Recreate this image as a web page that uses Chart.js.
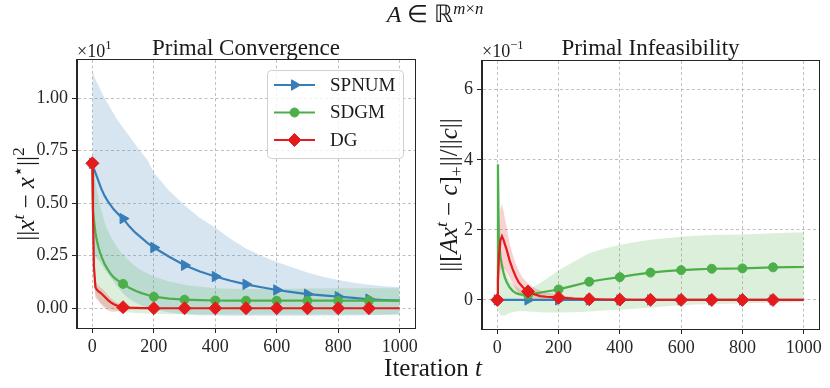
<!DOCTYPE html>
<html>
<head>
<meta charset="utf-8">
<script src="https://cdn.jsdelivr.net/npm/chart.js@4.4.1/dist/chart.umd.min.js"></script>
<style>
  html, body { margin: 0; padding: 0; background: #fff; }
  #figure { position: relative; width: 830px; height: 388px; overflow: hidden; font-family: "Liberation Serif", serif; color: #1a1a1a; }
  canvas { position: absolute; top: 0; }
  #conv { left: 0; }
  #infeas { left: 425px; }
  .figtext { position: absolute; transform: translate(-50%, -50%); white-space: nowrap; line-height: 1; }
  .figtext sup { font-size: 70%; line-height: 0; vertical-align: 0.5em; }
  #suptitle { left: 435px; top: 14px; font-size: 24px; }
  #xlabel { left: 433px; top: 367px; font-size: 25px; }
</style>
</head>
<body>
<div id="figure">
  <canvas id="conv" width="425" height="388"></canvas>
  <canvas id="infeas" width="405" height="388"></canvas>
  <div id="suptitle" class="figtext"><i>A</i> ∈ ℝ<sup><i>m</i>×<i>n</i></sup></div>
  <div id="xlabel" class="figtext">Iteration <i>t</i></div>
</div>
<script>
// iterations sampled for every curve
const iterations = [0, 2, 5, 10, 15, 20, 25, 30, 40, 50, 60, 70, 80, 90, 100, 120, 140, 160, 180, 200,
  250, 300, 350, 400, 450, 500, 550, 600, 650, 700, 750, 800, 850, 900, 950, 1000];
const xTicks = [0, 200, 400, 600, 800, 1000];

// Primal convergence, in units of 10^1
const convTicks = [0, 0.25, 0.5, 0.75, 1.0];
const spnumConv = [0.69, 0.68, 0.665, 0.645, 0.625, 0.605, 0.585, 0.566, 0.535, 0.51, 0.49, 0.47, 0.455, 0.44, 0.427, 0.39, 0.36, 0.335, 0.31, 0.289,
  0.245, 0.205, 0.175, 0.151, 0.131, 0.114, 0.1, 0.087, 0.077, 0.067, 0.061, 0.055, 0.049, 0.043, 0.039, 0.036];
const spnumConvHigh = [1.127, 1.12, 1.11, 1.09, 1.075, 1.06, 1.045, 1.03, 1.0, 0.975, 0.95, 0.925, 0.9, 0.88, 0.86, 0.82, 0.78, 0.74, 0.705, 0.645,
  0.56, 0.49, 0.43, 0.385, 0.33, 0.285, 0.25, 0.22, 0.195, 0.17, 0.15, 0.135, 0.122, 0.112, 0.105, 0.1];
const spnumConvLow = [0.26, 0.255, 0.25, 0.245, 0.238, 0.23, 0.22, 0.21, 0.185, 0.165, 0.145, 0.125, 0.105, 0.088, 0.07, 0.045, 0.027, 0.013, 0.003, -0.005,
  -0.02, -0.028, -0.033, -0.035, -0.036, -0.036, -0.036, -0.036, -0.036, -0.036, -0.035, -0.035, -0.034, -0.033, -0.032, -0.03];
const sdgmConv = [0.69, 0.47, 0.42, 0.36, 0.32, 0.29, 0.265, 0.245, 0.21, 0.185, 0.163, 0.147, 0.135, 0.125, 0.116, 0.098, 0.083, 0.072, 0.063, 0.055,
  0.046, 0.041, 0.039, 0.037, 0.036, 0.036, 0.036, 0.036, 0.036, 0.036, 0.036, 0.036, 0.036, 0.036, 0.036, 0.036];
const sdgmConvHigh = [0.69, 0.67, 0.65, 0.6, 0.56, 0.52, 0.49, 0.46, 0.41, 0.37, 0.34, 0.315, 0.293, 0.272, 0.255, 0.225, 0.2, 0.18, 0.165, 0.15,
  0.127, 0.112, 0.102, 0.095, 0.093, 0.092, 0.092, 0.093, 0.093, 0.094, 0.094, 0.095, 0.095, 0.095, 0.095, 0.095];
const sdgmConvLow = [0.69, 0.2, 0.12, 0.07, 0.05, 0.04, 0.03, 0.02, 0.01, 0.003, -0.003, -0.008, -0.012, -0.015, -0.017, -0.02, -0.022, -0.024, -0.025, -0.026,
  -0.028, -0.029, -0.03, -0.03, -0.03, -0.03, -0.03, -0.03, -0.03, -0.03, -0.03, -0.03, -0.03, -0.03, -0.03, -0.03];
const dgConv = [0.69, 0.45, 0.2, 0.1, 0.088, 0.08, 0.075, 0.069, 0.055, 0.04, 0.028, 0.019, 0.013, 0.008, 0.005, 0.003, 0.002, 0.001, 0.001, 0,
  0, 0, 0, 0, 0, 0, 0, 0, 0, 0, 0, 0, 0, 0, 0, 0];
const dgConvHigh = [0.69, 0.5, 0.28, 0.13, 0.115, 0.108, 0.1, 0.095, 0.08, 0.063, 0.048, 0.036, 0.026, 0.019, 0.014, 0.008, 0.005, 0.003, 0.002, 0.001,
  0, 0, 0, 0, 0, 0, 0, 0, 0, 0, 0, 0, 0, 0, 0, 0];
const dgConvLow = [0.69, 0.4, 0.12, 0.05, 0.04, 0.035, 0.025, 0.015, 0, -0.01, -0.015, -0.017, -0.016, -0.014, -0.012, -0.009, -0.006, -0.004, -0.003, -0.002,
  0, 0, 0, 0, 0, 0, 0, 0, 0, 0, 0, 0, 0, 0, 0, 0];

// Primal infeasibility, in units of 10^-1
const infTicks = [0, 2, 4, 6];
const spnumInf = [0, 0, 0, 0, 0, 0, 0, 0, 0, 0, 0, 0, 0, 0, 0, 0, 0, 0, 0, 0,
  0, 0, 0, 0, 0, 0, 0, 0, 0, 0, 0, 0, 0, 0, 0, 0];
const sdgmInf = [0, 3.87, 1.75, 1.25, 0.98, 0.78, 0.63, 0.52, 0.36, 0.26, 0.2, 0.165, 0.15, 0.145, 0.15, 0.18, 0.21, 0.24, 0.27, 0.3,
  0.41, 0.52, 0.59, 0.65, 0.72, 0.78, 0.82, 0.85, 0.87, 0.89, 0.895, 0.9, 0.915, 0.93, 0.935, 0.94];
const sdgmInfHigh = [0, 3.9, 2.0, 1.45, 1.2, 1.0, 0.85, 0.75, 0.56, 0.45, 0.38, 0.33, 0.3, 0.29, 0.3, 0.38, 0.48, 0.6, 0.72, 0.84,
  1.1, 1.33, 1.47, 1.57, 1.65, 1.72, 1.76, 1.8, 1.83, 1.85, 1.86, 1.87, 1.88, 1.9, 1.92, 1.93];
const sdgmInfLow = [0, -0.2, -0.35, -0.43, -0.45, -0.45, -0.44, -0.42, -0.38, -0.35, -0.33, -0.32, -0.32, -0.32, -0.33, -0.34, -0.35, -0.36, -0.36, -0.36,
  -0.35, -0.33, -0.3, -0.28, -0.25, -0.22, -0.18, -0.15, -0.13, -0.12, -0.11, -0.1, -0.09, -0.08, -0.07, -0.06];
const dgInf = [0, 0.6, 1.2, 1.7, 1.82, 1.72, 1.58, 1.45, 1.13, 0.88, 0.67, 0.5, 0.4, 0.3, 0.24, 0.16, 0.11, 0.09, 0.08, 0.065,
  0.035, 0.02, 0.012, 0.008, 0.005, 0.003, 0.002, 0.001, 0, 0, 0, 0, 0, 0, 0, 0];
const dgInfHigh = [0, 1.0, 2.0, 2.6, 2.75, 2.55, 2.3, 2.1, 1.62, 1.3, 1.03, 0.83, 0.67, 0.56, 0.47, 0.35, 0.27, 0.22, 0.18, 0.14,
  0.08, 0.05, 0.03, 0.02, 0.012, 0.008, 0.005, 0.003, 0.002, 0, 0, 0, 0, 0, 0, 0];
const dgInfLow = [0, 0.2, 0.45, 0.85, 0.92, 0.9, 0.86, 0.8, 0.64, 0.46, 0.31, 0.18, 0.12, 0.06, 0.02, 0, -0.02, -0.02, -0.015, -0.01,
  0, 0, 0, 0, 0, 0, 0, 0, 0, 0, 0, 0, 0, 0, 0, 0];

const FONT = "Liberation Serif";
const INK = "#262626";
const BLUE = "#377eb8";
const GREEN = "#4daf4a";
const RED = "#e41a1c";

const markers = {
  SPNUM: { style: "triangle", rotation: 90, radius: 6 },
  SDGM: { style: "circle", rotation: 0, radius: 4.5 },
  DG: { style: "rectRot", rotation: 0, radius: 6.5 },
};

Chart.defaults.font.family = FONT;
Chart.defaults.animation = false;

addEventListener("DOMContentLoaded", () => {
  renderChart("conv", {
    title: "Primal Convergence",
    scaleText: [["×10", ""], ["1", "^"]],
    yTitle: [["||", ""], ["x", "i"], ["t", "i^"], [" − ", ""], ["x", "i"], ["⋆", "^"], ["||", ""], ["2", "^"]],
    yTitleX: 34,
    yRange: [-0.094, 1.182],
    yTicks: convTicks,
    yDecimals: 2,
    yWidth: 77,
    xHeight: 60,
    padding: { top: 60, right: 10, left: 0, bottom: 0 },
    legend: true,
    series: [
      { label: "DG", color: RED, fill: "rgba(228,26,28,0.2)", mean: dgConv, high: dgConvHigh, low: dgConvLow },
      { label: "SDGM", color: GREEN, fill: "rgba(77,175,74,0.2)", mean: sdgmConv, high: sdgmConvHigh, low: sdgmConvLow },
      { label: "SPNUM", color: BLUE, fill: "rgba(55,126,184,0.2)", mean: spnumConv, high: spnumConvHigh, low: spnumConvLow },
    ],
  });

  renderChart("infeas", {
    title: "Primal Infeasibility",
    scaleText: [["×10", ""], ["−1", "^"]],
    yTitle: [["||[", ""], ["Ax", "i"], ["t", "i^"], [" − ", ""], ["c", "i"], ["]", ""], ["+", "_"], ["||/||", ""], ["c", "i"], ["||", ""]],
    yTitleX: 32,
    yRange: [-0.83, 6.82],
    yTicks: infTicks,
    yDecimals: 0,
    yWidth: 57,
    xHeight: 59,
    padding: { top: 61, right: 11, left: 0, bottom: 0 },
    legend: false,
    series: [
      { label: "DG", color: RED, fill: "rgba(228,26,28,0.2)", mean: dgInf, high: dgInfHigh, low: dgInfLow },
      { label: "SDGM", color: GREEN, fill: "rgba(77,175,74,0.2)", mean: sdgmInf, high: sdgmInfHigh, low: sdgmInfLow },
      { label: "SPNUM", color: BLUE, fill: null, mean: spnumInf },
    ],
  });
});

function points(values) {
  return iterations.map((x, i) => ({ x, y: values[i] }));
}

function hasMarker(ctx) {
  const x = ctx.raw ? ctx.raw.x : -1;
  return x % 100 === 0 && x < 1000;
}

function buildDatasets(series) {
  const lines = series.map((s, i) => {
    const m = markers[s.label];
    return {
      label: s.label,
      data: points(s.mean),
      borderColor: s.color,
      backgroundColor: s.color,
      borderWidth: 2.2,
      pointStyle: m.style,
      pointRotation: m.rotation,
      pointRadius: (ctx) => (hasMarker(ctx) ? m.radius : 0),
      pointHoverRadius: 0,
      pointBorderWidth: 1,
      pointBorderColor: s.color,
      pointBackgroundColor: s.color,
      fill: false,
      tension: 0,
      order: i,
    };
  });

  const bands = [];
  series.forEach((s, i) => {
    if (!s.high) return;
    const lowIndex = lines.length + bands.length + 1;
    const band = {
      borderColor: "rgba(0,0,0,0)",
      borderWidth: 0,
      pointRadius: 0,
      pointHoverRadius: 0,
      tension: 0,
      order: series.length + i,
    };
    bands.push({ ...band, data: points(s.high), fill: lowIndex, backgroundColor: s.fill });
    bands.push({ ...band, data: points(s.low), fill: false });
  });

  return lines.concat(bands);
}

function renderChart(id, cfg) {
  const ctx = document.getElementById(id);
  const tickFont = { family: FONT, size: 18 };
  const grid = { color: "#b0b0b0", lineWidth: 0.8, tickLength: 5, tickColor: INK, tickWidth: 1 };
  const border = { color: INK, width: 1, dash: [3, 2.5] };

  new Chart(ctx, {
    type: "line",
    data: { datasets: buildDatasets(cfg.series) },
    options: {
      responsive: false,
      events: [],
      layout: { padding: cfg.padding },
      plugins: {
        legend: { display: false },
        tooltip: { enabled: false },
        filler: { drawTime: "beforeDatasetsDraw" },
      },
      scales: {
        x: {
          type: "linear",
          min: -50,
          max: 1050,
          afterBuildTicks: (s) => { s.ticks = xTicks.map((v) => ({ value: v })); },
          afterFit: (s) => { s.height = cfg.xHeight; },
          grid,
          border,
          ticks: { font: tickFont, color: INK, padding: 3, maxRotation: 0, autoSkip: false, callback: (v) => String(v) },
        },
        y: {
          type: "linear",
          min: cfg.yRange[0],
          max: cfg.yRange[1],
          afterBuildTicks: (s) => { s.ticks = cfg.yTicks.map((v) => ({ value: v })); },
          afterFit: (s) => { s.width = cfg.yWidth; },
          grid,
          border,
          ticks: { font: tickFont, color: INK, padding: 4, autoSkip: false, callback: (v) => v.toFixed(cfg.yDecimals) },
        },
      },
    },
    plugins: [decorations(cfg)],
  });
}

function decorations(cfg) {
  return {
    id: "decorations",
    afterDraw(chart) {
      const { ctx, chartArea: a } = chart;
      ctx.save();
      ctx.strokeStyle = INK;
      ctx.lineWidth = 1;
      ctx.strokeRect(Math.round(a.left) - 0.5, Math.round(a.top) - 0.5, Math.round(a.right - a.left) + 1, Math.round(a.bottom - a.top) + 1);

      ctx.fillStyle = "#1a1a1a";
      ctx.font = `23px ${FONT}`;
      ctx.textAlign = "center";
      ctx.textBaseline = "alphabetic";
      ctx.fillText(cfg.title, (a.left + a.right) / 2, 55);
      ctx.restore();

      drawRich(ctx, cfg.scaleText, a.left, 57, 18, "left", false);
      drawRich(ctx, cfg.yTitle, cfg.yTitleX, (a.top + a.bottom) / 2, 25, "center", true);

      if (cfg.legend) drawLegend(ctx, cfg.series);
    },
  };
}

function drawRich(ctx, parts, x, y, size, align, rotate) {
  ctx.save();
  ctx.translate(x, y);
  if (rotate) ctx.rotate(-Math.PI / 2);
  ctx.fillStyle = "#1a1a1a";
  ctx.textBaseline = "alphabetic";
  ctx.textAlign = "left";
  const runs = parts.map(([text, kind]) => {
    const small = kind.includes("^") || kind.includes("_");
    const font = (kind.includes("i") ? "italic " : "") + (small ? size * 0.7 : size) + "px " + FONT;
    ctx.font = font;
    const dy = kind.includes("^") ? -size * 0.42 : kind.includes("_") ? size * 0.2 : 0;
    return { text, font, dy, w: ctx.measureText(text).width };
  });
  const total = runs.reduce((sum, r) => sum + r.w, 0);
  let cx = align === "center" ? -total / 2 : 0;
  runs.forEach((r) => {
    ctx.font = r.font;
    ctx.fillText(r.text, cx, r.dy);
    cx += r.w;
  });
  ctx.restore();
}

function drawLegend(ctx, series) {
  const entries = ["SPNUM", "SDGM", "DG"].map((name) => series.find((s) => s.label === name));
  const box = { x: 267.5, y: 70.5, w: 136, h: 88, r: 4 };
  const rows = [85, 112.5, 140];

  ctx.save();
  ctx.beginPath();
  ctx.moveTo(box.x + box.r, box.y);
  ctx.arcTo(box.x + box.w, box.y, box.x + box.w, box.y + box.h, box.r);
  ctx.arcTo(box.x + box.w, box.y + box.h, box.x, box.y + box.h, box.r);
  ctx.arcTo(box.x, box.y + box.h, box.x, box.y, box.r);
  ctx.arcTo(box.x, box.y, box.x + box.w, box.y, box.r);
  ctx.closePath();
  ctx.fillStyle = "rgba(255,255,255,0.8)";
  ctx.fill();
  ctx.strokeStyle = "#d0d0d0";
  ctx.lineWidth = 1;
  ctx.stroke();

  entries.forEach((s, i) => {
    const y = rows[i];
    const m = markers[s.label];
    ctx.strokeStyle = s.color;
    ctx.fillStyle = s.color;
    ctx.lineWidth = 2.2;
    ctx.beginPath();
    ctx.moveTo(274, y);
    ctx.lineTo(315, y);
    ctx.stroke();
    ctx.lineWidth = 1;
    Chart.helpers.drawPoint(ctx, { pointStyle: m.style, rotation: m.rotation, radius: m.radius, borderWidth: 1 }, 294.5, y);

    ctx.fillStyle = "#1a1a1a";
    ctx.font = `19px ${FONT}`;
    ctx.textAlign = "left";
    ctx.textBaseline = "middle";
    ctx.fillText(s.label, 330, y + 1);
  });
  ctx.restore();
}
</script>
</body>
</html>
